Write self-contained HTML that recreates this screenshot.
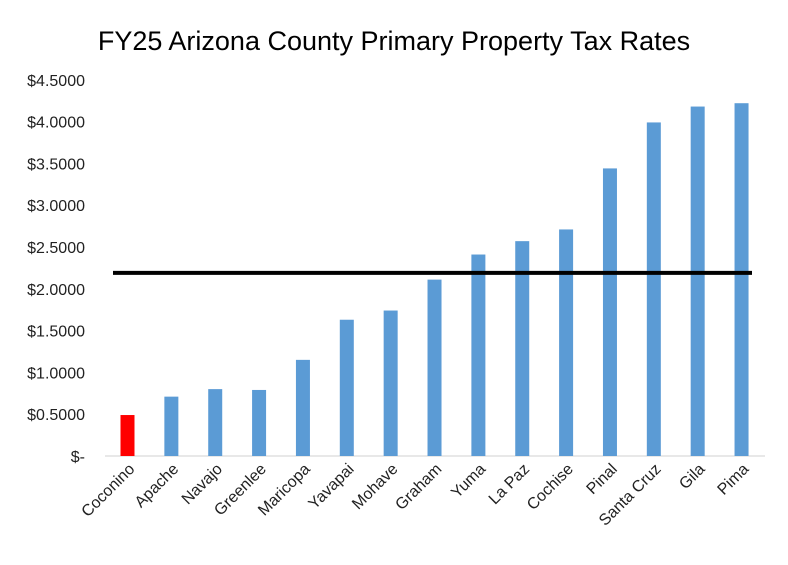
<!DOCTYPE html>
<html><head><meta charset="utf-8"><style>
body{margin:0;background:#fff;font-family:"Liberation Sans",sans-serif}
svg text{font-family:"Liberation Sans",sans-serif}
</style></head><body>
<svg id="c" width="788" height="560">
<text x="394" y="50" text-anchor="middle" font-size="27" fill="#000">FY25 Arizona County Primary Property Tax Rates</text>
</svg>
<script>
const categories=["Coconino","Apache","Navajo","Greenlee","Maricopa","Yavapai","Mohave","Graham","Yuma","La Paz","Cochise","Pinal","Santa Cruz","Gila","Pima"];
const rates=[0.49,0.71,0.80,0.79,1.15,1.63,1.74,2.11,2.41,2.57,2.71,3.44,3.99,4.18,4.22];
const average=[2.19];
const ticks=[0,0.5,1,1.5,2,2.5,3,3.5,4,4.5];
const tickLabels=["$-","$0.5000","$1.0000","$1.5000","$2.0000","$2.5000","$3.0000","$3.5000","$4.0000","$4.5000"];
const svg=document.getElementById('c');const NS='http://www.w3.org/2000/svg';
function y(v){return 456-v*83.6;}
function x(i){return 127.5+i*43.86;}
function mk(t,a){const e=document.createElementNS(NS,t);for(const k in a)e.setAttribute(k,a[k]);svg.appendChild(e);return e;}
ticks.forEach((t,i)=>{const e=mk('text',{x:85,y:y(t)+6,'text-anchor':'end','font-size':16,fill:'#222'});e.textContent=tickLabels[i];

});
const ax=mk('line',{x1:105,x2:765,y1:456,y2:456,stroke:'#d0d0d0','stroke-width':1});


rates.forEach((v,i)=>{const b=mk('rect',{x:x(i)-7,y:y(v),width:14,height:456-y(v),fill:i==0?'#ff0000':'#5b9bd5'});


const t=mk('text',{x:0,y:0,'text-anchor':'end','font-size':16,fill:'#222',transform:`translate(${x(i)+8},${470}) rotate(-45)`});t.textContent=categories[i];

});
const l=mk('line',{x1:113,x2:752,y1:y(average[0]),y2:y(average[0]),stroke:'#000','stroke-width':4});


</script>
</body></html>
